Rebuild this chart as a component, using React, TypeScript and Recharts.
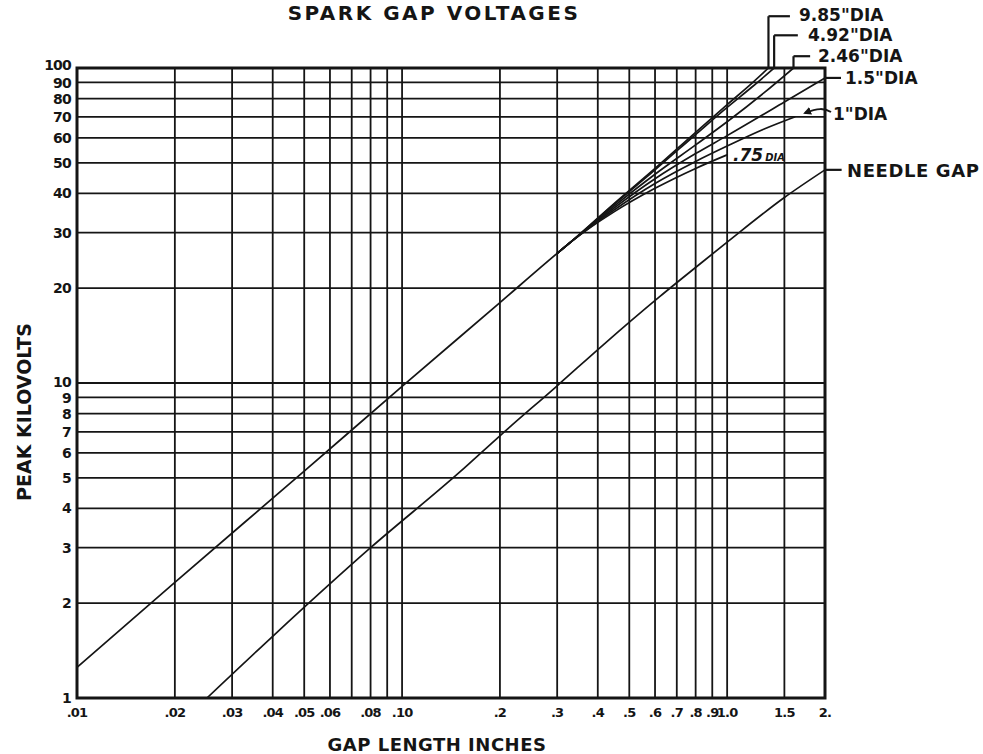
import React from 'react';
import { LineChart, Line, XAxis, YAxis, CartesianGrid, ReferenceLine, ReferenceArea } from 'recharts';

// ---- tick values / labels ----
const xTicks = [0.01, 0.02, 0.03, 0.04, 0.05, 0.06, 0.07, 0.08, 0.09, 0.1, 0.2, 0.3, 0.4, 0.5, 0.6, 0.7, 0.8, 0.9, 1, 1.5, 2];
const xTickLabels = ['.01', '.02', '.03', '.04', '.05', '.06', '', '.08', '', '.10', '.2', '.3', '.4', '.5', '.6', '.7', '.8', '.9', '1.0', '1.5', '2.'];
const yTicks = [1, 2, 3, 4, 5, 6, 7, 8, 9, 10, 20, 30, 40, 50, 60, 70, 80, 90, 100];
const yTickLabels = ['1', '2', '3', '4', '5', '6', '7', '8', '9', '10', '20', '30', '40', '50', '60', '70', '80', '90', '100'];

// ---- series (gap in inches, peak kV) ----
const gapCommon = [0.01, 0.02, 0.05, 0.1, 0.2, 0.3, 0.33];
const kvCommon = [1.25, 2.33, 5.25, 9.75, 18.0, 25.8, 28.0];

const gap985 = [0.3, 0.33, 0.45, 0.6, 0.8, 1.0, 1.2, 1.34];
const kv985 = [25.8, 28.0, 37.2, 48.0, 62.5, 76.5, 90.0, 100];

const gap492 = [0.3, 0.33, 0.45, 0.6, 0.8, 1.0, 1.2, 1.395];
const kv492 = [25.8, 28.0, 37.0, 47.5, 61.5, 75.0, 87.5, 100];

const gap246 = [0.3, 0.33, 0.45, 0.6, 0.8, 1.0, 1.3, 1.6];
const kv246 = [25.8, 28.0, 36.5, 46.0, 57.0, 67.5, 83.5, 100];

const gap15 = [0.3, 0.33, 0.45, 0.6, 0.8, 1.0, 1.5, 2.0];
const kv15 = [25.8, 28.0, 36.0, 44.5, 53.5, 61.0, 78.0, 93.0];

const gap1 = [0.3, 0.33, 0.45, 0.6, 0.8, 1.0, 1.3, 1.62];
const kv1 = [25.8, 28.0, 35.5, 43.0, 50.5, 56.5, 64.0, 70.0];

const gap075 = [0.3, 0.33, 0.45, 0.6, 0.8, 1.0];
const kv075 = [25.8, 28.0, 35.0, 41.5, 48.0, 53.0];

const gapNeedle = [0.0251, 0.04, 0.08, 0.15, 0.2, 0.3, 0.415, 0.62, 0.83, 1.0, 1.5, 2.0];
const kvNeedle = [1.0, 1.57, 3.0, 5.2, 6.8, 9.8, 13.2, 18.8, 24.0, 28.0, 38.8, 47.5];

// ---- leader lines (data space) ----
const leaders985 = { x: 1.34, y: 100, yTop: 146, xEnd: 1.56 };
const leaders492 = { x: 1.395, y: 100, yTop: 127, xEnd: 1.65 };
const leaders246 = { x: 1.6, y: 100, yTop: 109, xEnd: 1.8 };
const leader15 = { x: 2.0, y: 93, xEnd: 2.24 };
const leaderNeedle = { x: 2.0, y: 47.5, xEnd: 2.25 };

const toRows = (g: number[], v: number[]) => g.map((gap, i) => ({ gap, kv: v[i] }));

const series = [
  toRows(gapCommon, kvCommon),
  toRows(gap985, kv985),
  toRows(gap492, kv492),
  toRows(gap246, kv246),
  toRows(gap15, kv15),
  toRows(gap1, kv1),
  toRows(gap075, kv075),
  toRows(gapNeedle, kvNeedle),
];

const INK = '#151515';
const FONT = '"DejaVu Sans", Verdana, sans-serif';

const YTick = (props: any) => {
  const { x, y, payload } = props;
  const v = payload.value;
  const i = yTicks.findIndex((t) => Math.abs(t - v) < 1e-9);
  const label = i >= 0 ? yTickLabels[i] : '';
  const shift = v === 100 ? -3 : v === 10 ? -1 : v === 9 ? 1 : v === 90 ? 1 : 0;
  return (
    <text
      x={x}
      y={y + shift}
      dy="0.36em"
      textAnchor="end"
      fill={INK}
      fontSize={14}
      fontWeight={700}
      fontFamily={FONT}
      letterSpacing={-0.8}
    >
      {label}
    </text>
  );
};

export default function App() {
  const tickStyleX = { fill: INK, fontSize: 13, fontWeight: 700, fontFamily: FONT, letterSpacing: -0.8 };
  return (
    <div style={{ position: 'absolute', left: 0, top: 0, width: 983, height: 754, background: '#fff' }}>
      <LineChart width={983} height={754} margin={{ top: 68, right: 158, bottom: 26, left: 17 }}>
        <CartesianGrid stroke={INK} strokeWidth={1.8} horizontalValues={yTicks} verticalValues={xTicks} />
        <XAxis
          dataKey="gap"
          type="number"
          scale="log"
          domain={[0.01, 2]}
          allowDataOverflow
          ticks={xTicks}
          interval={0}
          height={30}
          tickLine={false}
          axisLine={false}
          tickSize={0}
          tickMargin={10}
          tick={tickStyleX}
          tickFormatter={(v: number) => {
            const i = xTicks.findIndex((t) => Math.abs(t - v) < 1e-9);
            return i >= 0 ? xTickLabels[i] : '';
          }}
        />
        <YAxis
          dataKey="kv"
          type="number"
          scale="log"
          domain={[1, 100]}
          allowDataOverflow
          ticks={yTicks}
          interval={0}
          width={60}
          tickLine={false}
          axisLine={false}
          tickSize={0}
          tickMargin={6}
          tick={<YTick />}
        />
        <ReferenceArea x1={0.01} x2={2} y1={1} y2={100} fill="none" stroke={INK} strokeWidth={3} ifOverflow="visible" />
        {series.map((d, i) => (
          <Line
            key={i}
            data={d}
            dataKey="kv"
            type="monotone"
            stroke={INK}
            strokeWidth={1.7}
            dot={false}
            activeDot={false}
            isAnimationActive={false}
          />
        ))}
        {[leaders985, leaders492, leaders246].map((l, i) => (
          <ReferenceLine
            key={'v' + i}
            segment={[{ x: l.x, y: l.y }, { x: l.x, y: l.yTop }]}
            stroke={INK}
            strokeWidth={2.2}
            ifOverflow="visible"
          />
        ))}
        {[leaders985, leaders492, leaders246].map((l, i) => (
          <ReferenceLine
            key={'h' + i}
            segment={[{ x: l.x, y: l.yTop }, { x: l.xEnd, y: l.yTop }]}
            stroke={INK}
            strokeWidth={2.2}
            ifOverflow="visible"
          />
        ))}
        {[leader15, leaderNeedle].map((l, i) => (
          <ReferenceLine
            key={'r' + i}
            segment={[{ x: l.x, y: l.y }, { x: l.xEnd, y: l.y }]}
            stroke={INK}
            strokeWidth={2.2}
            ifOverflow="visible"
          />
        ))}
      </LineChart>
      <svg width={983} height={754} style={{ position: 'absolute', left: 0, top: 0, pointerEvents: 'none' }}>
        <defs>
          <marker id="arr" markerWidth="8" markerHeight="8" refX="6" refY="4" orient="auto" markerUnits="userSpaceOnUse">
            <path d="M0,0 L8,4 L0,8 z" fill={INK} />
          </marker>
        </defs>
        <g fontFamily={FONT} fontWeight={700} fill={INK}>
          <text x={434} y={20} textAnchor="middle" fontSize={20} letterSpacing={2.5}>SPARK GAP VOLTAGES</text>
          <text x={437} y={751} textAnchor="middle" fontSize={18} letterSpacing={0.5}>GAP LENGTH INCHES</text>
          <text transform="translate(31,412) rotate(-90)" textAnchor="middle" fontSize={19}>PEAK KILOVOLTS</text>
          <text x={799} y={21} fontSize={17}>9.85"DIA</text>
          <text x={808} y={41} fontSize={17}>4.92"DIA</text>
          <text x={818} y={62} fontSize={17}>2.46"DIA</text>
          <text x={845} y={84} fontSize={17}>1.5"DIA</text>
          <text x={833} y={120} fontSize={17}>1"DIA</text>
          <text x={847} y={177} fontSize={18} letterSpacing={0.6}>NEEDLE GAP</text>
          <text x={733} y={161} fontSize={17} fontStyle="italic">.75<tspan fontSize={10} dx={2}>DIA</tspan></text>
        </g>
        <path d="M831,112 C824,108 818,108 805,113" stroke={INK} strokeWidth={2} fill="none" markerEnd="url(#arr)" />
      </svg>
    </div>
  );
}
